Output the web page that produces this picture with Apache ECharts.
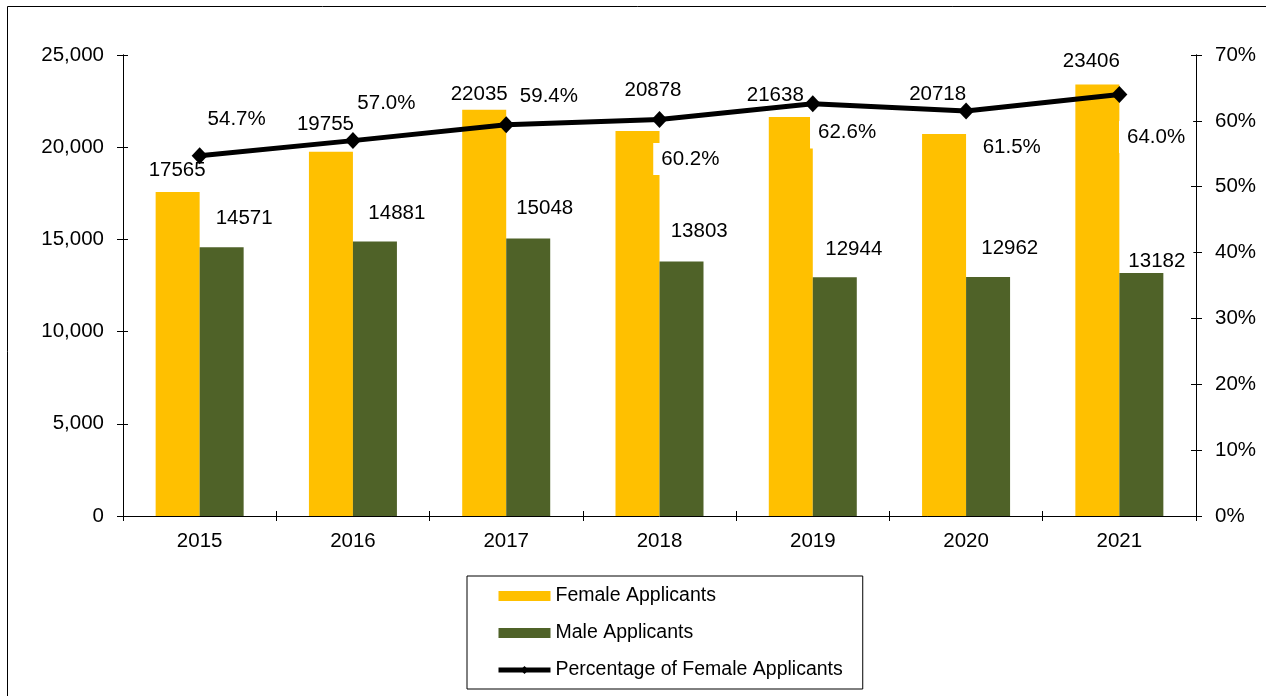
<!DOCTYPE html>
<html>
<head>
<meta charset="utf-8">
<script src="https://cdn.jsdelivr.net/npm/echarts@6/dist/echarts.min.js"></script>
<style>
html,body{margin:0;padding:0;background:#fff;}
#chart{width:1266px;height:696px;}
</style>
</head>
<body>
<div id="chart"></div>
<script>
// ---- data ----
const years = ['2015','2016','2017','2018','2019','2020','2021'];
const femaleApplicants = [17565, 19755, 22035, 20878, 21638, 20718, 23406];
const maleApplicants = [14571, 14881, 15048, 13803, 12944, 12962, 13182];
const femalePercent = [54.7, 57.0, 59.4, 60.2, 62.6, 61.5, 64.0];

// ---- label placement tweaks (styling only) ----
const femaleLabelShift = [[-0.5,-9],[-5.5,-14],[-5,-2],[15.5,-28],[-15.5,-8.5],[-6.4,-27],[-6,-9.7]];
const maleLabelShift = [[22.5,-17],[21.9,-16.2],[16.5,-17.7],[17.7,-18.5],[19,-16.3],[21.7,-16.7],[15.5,0]];
const pctLabelShift = [[37,-36],[33.5,-37],[42.7,-28],[30.8,39.5],[34.3,28.8],[45.7,36.6],[36.7,42.5]];

const FONT = 'Liberation Sans, Arial, sans-serif';
const chart = echarts.init(document.getElementById('chart'), null, {renderer:'canvas'});

const axisCol = '#000';
const lblBase = {fontFamily: FONT, fontSize: 20.5, color: '#000'};

function tickAxisY(idx, max, interval, inside, fmt, pos){
  return {
    type:'value', min:0, max:max, interval:interval, position:pos,
    splitLine:{show:false},
    axisLine:{show:true, lineStyle:{color:axisCol, width:1}},
    axisTick:{show:true, inside:inside, length:inside?5:6, lineStyle:{color:axisCol}},
    axisLabel:{show:!inside, margin:19, fontFamily:FONT, fontSize:20.5, color:'#000', formatter:fmt}
  };
}

const option = {
  backgroundColor:'#fff',
  animation:false,
  graphic:[{
    type:'rect', z:-1, silent:true,
    shape:{x:7.5, y:6.5, width:1400, height:800},
    style:{fill:'none', stroke:'#000', lineWidth:1}
  }],
  grid:{left:123, right:70, top:55, bottom:180, containLabel:false},
  legend:{
    orient:'vertical', left:467, top:576,
    padding:[9,20,8,29],
    borderColor:'#000', borderWidth:1,
    itemWidth:52, itemHeight:10, itemGap:15,
    textStyle:{fontFamily:FONT, fontSize:19.5, color:'#000', lineHeight:22},
    data:[
      {name:'Female Applicants', icon:'rect', itemStyle:{color:'#FFC000'}},
      {name:'Male Applicants', icon:'rect', itemStyle:{color:'#4F6228'}},
      {name:'Percentage of Female Applicants', lineStyle:{width:5, color:'#000'}, itemStyle:{color:'#000'}}
    ]
  },
  xAxis:[{
    type:'category', data:years, boundaryGap:true,
    axisLine:{lineStyle:{color:axisCol, width:1}},
    axisTick:{show:true, length:5, alignWithLabel:false, lineStyle:{color:axisCol}},
    axisLabel:{margin:15, fontFamily:FONT, fontSize:20.5, color:'#000'}
  },{
    type:'category', data:years, boundaryGap:true, position:'bottom',
    axisLine:{show:false},
    axisTick:{show:true, inside:true, length:5, lineStyle:{color:axisCol}},
    axisLabel:{show:false}
  }],
  yAxis:[
    tickAxisY(0, 25000, 5000, false, v=>v.toLocaleString('en-US'), 'left'),
    tickAxisY(1, 70, 10, false, '{value}%', 'right'),
    tickAxisY(2, 25000, 5000, true, null, 'left'),
    tickAxisY(3, 70, 10, true, null, 'right')
  ],
  series:[
    {
      name:'Female Applicants', type:'bar', xAxisIndex:0, yAxisIndex:0,
      barWidth:44, barGap:'0%', z:2,
      itemStyle:{color:'#FFC000'},
      data: femaleApplicants.map((v,i)=>({value:v, label:{offset:femaleLabelShift[i]}})),
      label:{show:true, position:'top', distance:0, padding:[3,4], lineHeight:20, ...lblBase}
    },
    {
      name:'Male Applicants', type:'bar', xAxisIndex:0, yAxisIndex:0,
      barWidth:44, barGap:'0%', z:2,
      itemStyle:{color:'#4F6228'},
      data: maleApplicants.map((v,i)=>({value:v, label:{offset:maleLabelShift[i]}})),
      label:{show:true, position:'top', distance:0, padding:[2,8], lineHeight:20, backgroundColor:'#fff', ...lblBase}
    },
    {
      name:'Percentage of Female Applicants', type:'line', xAxisIndex:0, yAxisIndex:1, z:3,
      symbol:'diamond', symbolSize:[16,17],
      lineStyle:{color:'#000', width:5},
      itemStyle:{color:'#000'},
      data: femalePercent.map((v,i)=>({value:v, label:{offset:pctLabelShift[i]}})),
      label:{show:true, position:'inside', padding:[6,8], lineHeight:20, backgroundColor:'#fff',
             formatter:p=>p.value.toFixed(1)+'%', ...lblBase}
    }
  ]
};
chart.setOption(option);
</script>
</body>
</html>
